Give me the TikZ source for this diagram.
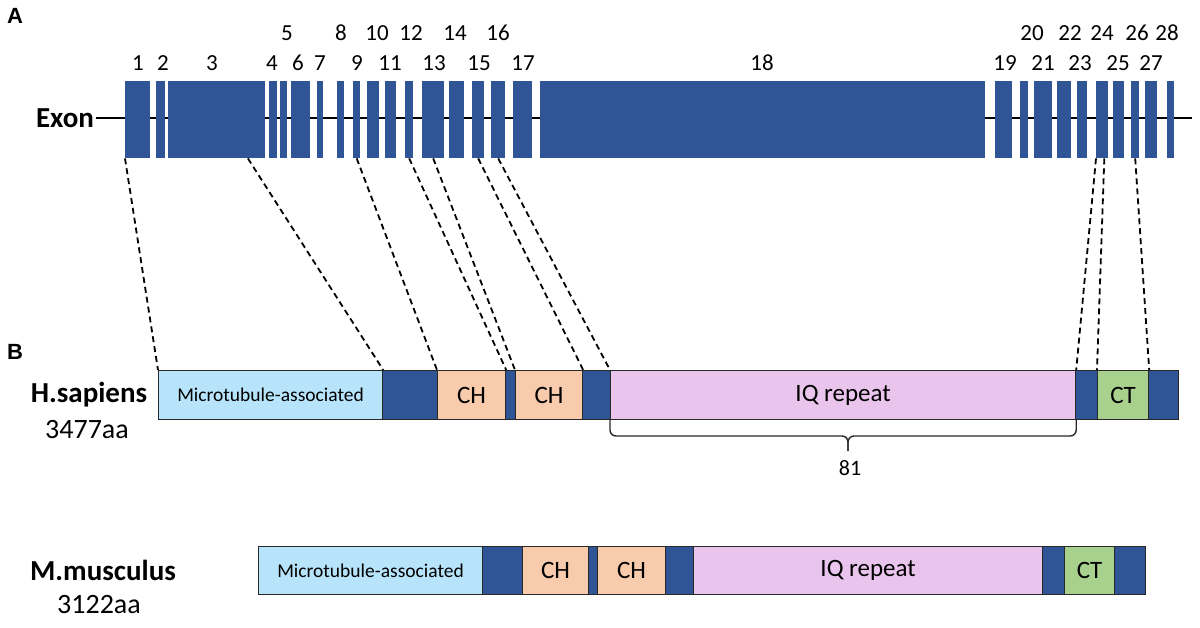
\documentclass[tikz,border=0pt]{standalone}
\usepackage{fontspec}
\setmainfont{Carlito}
\newfontfamily\panelfont{Liberation Sans}
\usetikzlibrary{calc}
\definecolor{exblue}{RGB}{47,85,151}
\definecolor{mtblue}{RGB}{183,228,250}
\definecolor{chpeach}{RGB}{248,203,173}
\definecolor{iqpink}{RGB}{233,196,236}
\definecolor{ctgreen}{RGB}{169,209,142}
\definecolor{edgegray}{RGB}{40,40,40}
\newcommand\setfsz[1]{\fontsize{#1}{#1}\selectfont}
\tikzset{
  exonbox/.style={fill=exblue, inner sep=0pt, minimum height=77, anchor=north west},
  exnum/.style={font=\setfsz{23}, inner sep=0pt},
  seg/.style={draw=edgegray, line width=1.2pt, inner sep=0pt, anchor=north west, font=\setfsz{25}},
  mtseg/.style={seg, fill=mtblue, font=\setfsz{19.5}},
  dkseg/.style={seg, fill=exblue},
  chseg/.style={seg, fill=chpeach},
  iqseg/.style={seg, fill=iqpink},
  ctseg/.style={seg, fill=ctgreen},
  conn/.style={draw=black, line width=1.8pt, dash pattern=on 6pt off 4pt},
  bracestyle/.style={draw=edgegray, line width=1.4pt, rounded corners=6pt},
  species/.style={font=\setfsz{29}\bfseries, inner sep=0pt},
  aalbl/.style={font=\setfsz{28}, inner sep=0pt},
  panel/.style={font=\panelfont\setfsz{22}\bfseries, inner sep=0pt}
}
\begin{document}
\begin{tikzpicture}[x=1pt,y=-1pt]
\useasboundingbox (0,0) rectangle (1200,628);
% panel labels
\node[panel] (pa) at (15,16) {A};
\node[panel] (pb) at (15,352) {B};
% exon line
\node[font=\setfsz{29}\bfseries, inner sep=2pt] (exlbl) at (65,118) {Exon};
\coordinate (lend) at (1192,118);
\draw[line width=2pt] (exlbl.east) -- (lend);
% exons
\foreach \n/\a/\b in {1/125/150, 2/156/165, 3/168/265, 4/269/277, 5/280/287,
  6/291/310, 7/317/323, 8/337/344, 9/353/360, 10/367/379, 11/385/396,
  12/405/413, 13/422/444, 14/449/464, 15/472/484, 16/491/505, 17/513/532,
  18/540/985, 19/995/1012, 20/1020/1028, 21/1034/1052, 22/1057/1071,
  23/1077/1087, 24/1096/1108, 25/1113/1124, 26/1131/1139, 27/1145/1157,
  28/1167/1174}
  \node[exonbox, minimum width={\b-\a}] (e\n) at (\a,81) {};
% exon numbers
\foreach \n/\x/\y in {1/138/63, 2/163/63, 3/212/63, 4/272/63, 5/287/33,
  6/298/63, 7/320/63, 8/341/33, 9/357/63, 10/377/33, 11/390/63, 12/411/33,
  13/434/63, 14/455/33, 15/479/63, 16/498/33, 17/523/63, 18/762/63,
  19/1005/63, 20/1032/33, 21/1043/63, 22/1070/33, 23/1080/63, 24/1102/33,
  25/1118/63, 26/1137/33, 27/1151/63, 28/1167/33}
  \node[exnum] (l\n) at (\x,\y) {\n};
% H.sapiens protein
\node[species] (hsp) at (89,395) {H.sapiens};
\node[aalbl] (haa) at (87,430) {3477aa};
\node[mtseg, minimum width=224, minimum height=49] (hmt) at (158,370) {Microtubule-associated};
\node[dkseg, minimum width=55, minimum height=49] (hd1) at (382,370) {};
\node[chseg, minimum width=68, minimum height=49] (hch1) at (437,370) {CH};
\node[dkseg, minimum width=10, minimum height=49] (hd2) at (505,370) {};
\node[chseg, minimum width=67, minimum height=49] (hch2) at (515,370) {CH};
\node[dkseg, minimum width=28, minimum height=49] (hd3) at (582,370) {};
\node[iqseg, minimum width=465, minimum height=49] (hiq) at (610,370) {IQ repeat};
\node[dkseg, minimum width=22, minimum height=49] (hd4) at (1075,370) {};
\node[ctseg, minimum width=51, minimum height=49] (hct) at (1097,370) {CT};
\node[dkseg, minimum width=30, minimum height=49] (hd5) at (1148,370) {};
% connectors exon -> protein
\draw[conn] (e1.south west) -- (hmt.north west);
\draw[conn] ($(e3.south west)!0.82!(e3.south east)$) -- (hmt.north east);
\draw[conn] (e9.south) -- (hch1.north west);
\draw[conn] (e12.south) -- (hch1.north east);
\draw[conn] (e13.south) -- (hch2.north west);
\draw[conn] (e15.south) -- (hch2.north east);
\draw[conn] (e16.south) -- (hiq.north west);
\draw[conn] (e24.south west) -- (hiq.north east);
\draw[conn] ($(e24.south west)!0.67!(e24.south east)$) -- (hct.north west);
\draw[conn] (e26.south) -- (hct.north east);
% brace
\coordinate (bmid) at (848,436);
\coordinate (btip) at (848,451);
\draw[bracestyle] (hiq.south west) |- (bmid) -- (btip);
\draw[bracestyle] (hiq.south east) |- (bmid) -- (btip);
\node[font=\setfsz{22}, inner sep=0pt] (n81) at (850,468) {81};
% M.musculus protein
\node[species] (msp) at (103,570) {M.musculus};
\node[aalbl] (maa) at (99,605) {3122aa};
\node[mtseg, minimum width=224, minimum height=48] (mmt) at (258,546) {Microtubule-associated};
\node[dkseg, minimum width=40, minimum height=48] (md1) at (482,546) {};
\node[chseg, minimum width=66, minimum height=48] (mch1) at (522,546) {CH};
\node[dkseg, minimum width=9, minimum height=48] (md2) at (588,546) {};
\node[chseg, minimum width=68, minimum height=48] (mch2) at (597,546) {CH};
\node[dkseg, minimum width=28, minimum height=48] (md3) at (665,546) {};
\node[iqseg, minimum width=349, minimum height=48] (miq) at (693,546) {IQ repeat};
\node[dkseg, minimum width=22, minimum height=48] (md4) at (1042,546) {};
\node[ctseg, minimum width=50, minimum height=48] (mct) at (1064,546) {CT};
\node[dkseg, minimum width=31, minimum height=48] (md5) at (1114,546) {};
\end{tikzpicture}
\end{document}
